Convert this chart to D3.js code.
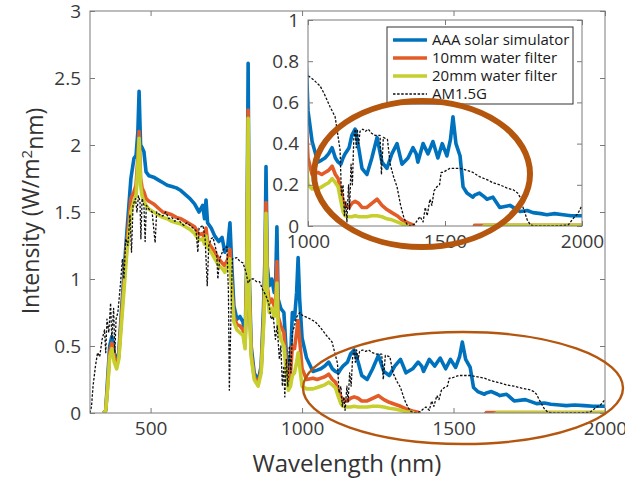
<!DOCTYPE html>
<html>
<head>
<meta charset="utf-8">
<script src="https://cdn.jsdelivr.net/npm/d3@7"></script>
<style>
  body { margin: 0; background: #fff; }
  svg { display: block; font-family: "Open Sans", sans-serif; }
  .tick text { fill: #3a3a3a; }
</style>
</head>
<body>
<svg id="chart" width="625" height="481"></svg>
<script>
// simulator + water filter spectra (shared wavelength grid, nm)
var wlSim = [345,352,358,365,372,380,388,395,405,420,435,445,452,458,462,467,472,478,485,495,
  510,525,540,555,570,585,600,615,630,645,660,672,678,683,688,700,712,725,736,745,
  755,762,768,775,785,795,805,812,818,822,826,832,842,855,865,873,878,881,885,892,
  900,908,913,917,921,930,940,948,955,962,968,975,982,987,992,1000,1015,1036,1050,1062,
  1075,1088,1100,1110,1120,1128,1135,1150,1160,1172,1185,1197,1215,1233,1252,1270,1288,1306,1325,1343,
  1365,1383,1395,1401,1420,1438,1456,1474,1490,1507,1520,1529,1540,1555,1566,1580,1602,1608,1625,1645,
  1653,1675,1700,1737,1774,1800,1821,1850,1872,1900,1931,1960,2000];
var aaa = [0,0.02,0.25,0.5,0.57,0.45,0.37,0.45,0.8,1.3,1.75,1.9,1.92,2.1,2.4,2.0,1.98,1.95,1.8,1.77,
  1.76,1.74,1.72,1.7,1.69,1.68,1.66,1.63,1.6,1.56,1.5,1.55,1.45,1.59,1.42,1.38,1.32,1.28,1.31,1.2,
  1.25,1.42,1.1,0.8,0.7,0.72,0.68,0.55,1.2,2.61,1.0,0.5,0.3,0.24,0.35,0.8,1.2,1.84,1.1,0.95,
  1.0,0.9,1.0,1.39,0.85,0.78,0.75,0.45,0.3,0.4,0.75,0.7,0.9,1.16,0.85,0.56,0.41,0.31,0.32,0.33,
  0.35,0.38,0.33,0.31,0.3,0.33,0.35,0.38,0.44,0.47,0.38,0.28,0.25,0.33,0.43,0.31,0.28,0.35,0.4,0.3,
  0.33,0.38,0.35,0.31,0.4,0.35,0.41,0.33,0.4,0.34,0.42,0.53,0.4,0.34,0.19,0.16,0.14,0.15,0.16,0.14,
  0.13,0.14,0.09,0.1,0.07,0.075,0.065,0.06,0.055,0.06,0.055,0.05,0.05];
var water10 = [0,0.02,0.2,0.45,0.52,0.42,0.35,0.42,0.75,1.22,1.6,1.65,1.7,1.9,2.1,1.75,1.68,1.65,1.6,1.58,
  1.56,1.53,1.5,1.49,1.48,1.46,1.45,1.43,1.41,1.39,1.33,1.34,1.3,1.38,1.28,1.24,1.2,1.15,1.12,1.1,
  1.15,1.22,0.95,0.72,0.66,0.65,0.62,0.5,1.1,2.26,0.9,0.45,0.27,0.22,0.32,0.7,1.1,1.57,0.95,0.82,
  0.85,0.8,0.85,1.13,0.72,0.65,0.6,0.35,0.22,0.3,0.5,0.48,0.6,0.69,0.55,0.33,0.25,0.26,0.25,0.26,
  0.27,0.29,0.25,0.23,0.17,0.12,0.1,0.09,0.11,0.12,0.11,0.09,0.09,0.11,0.13,0.1,0.08,0.065,0.05,0.03,
  0.015,0.005,-0.02,-0.02,-0.02,-0.02,-0.02,-0.02,-0.02,-0.02,-0.02,-0.02,-0.02,-0.02,-0.02,-0.02,-0.02,0.003,0.003,0.003,
  0.003,0.003,0.003,0.003,0.003,0.003,0.003,0.003,0.003,0.003,0.003,0.003,0.003];
var water20 = [0,0.02,0.18,0.42,0.48,0.38,0.33,0.4,0.7,1.15,1.5,1.58,1.62,1.85,2.05,1.7,1.62,1.58,1.55,1.52,
  1.5,1.48,1.46,1.45,1.43,1.42,1.41,1.39,1.37,1.34,1.29,1.3,1.26,1.32,1.24,1.2,1.15,1.1,1.08,1.05,
  1.1,1.15,0.9,0.68,0.62,0.6,0.58,0.48,1.05,2.2,0.85,0.42,0.25,0.2,0.3,0.65,1.0,1.49,0.9,0.75,
  0.78,0.72,0.8,0.97,0.65,0.55,0.5,0.3,0.17,0.2,0.28,0.3,0.38,0.45,0.35,0.2,0.18,0.18,0.19,0.2,
  0.21,0.23,0.21,0.19,0.12,0.07,0.05,0.045,0.045,0.05,0.045,0.045,0.045,0.05,0.05,0.045,0.035,0.03,0.02,0.01,
  0.003,-0.02,-0.02,-0.02,-0.02,-0.02,-0.02,-0.02,-0.02,-0.02,-0.02,-0.02,-0.02,-0.02,-0.02,-0.02,-0.02,-0.02,-0.02,0.003,
  0.003,0.003,0.003,0.003,0.003,0.003,0.003,0.003,0.003,0.003,0.003,0.003,0.003];

// AM1.5G reference
var wlAM = [300,305,310,318,325,332,340,348,352,356,362,368,372,378,382,386,392,400,407,412,
  418,425,432,437,442,450,455,460,465,468,472,478,482,486,495,505,515,520,530,540,
  550,560,570,580,590,600,610,620,630,640,650,656,660,673,680,687,692,700,706,718,
  722,728,740,752,757,760,765,770,785,795,805,815,822,830,840,850,860,870,880,890,
  898,905,912,918,925,930,935,940,943,948,953,958,963,968,975,983,993,1000,1020,1044,
  1060,1080,1099,1108,1117,1122,1128,1133,1138,1142,1148,1152,1157,1162,1167,1172,1176,1180,1185,1190,
  1200,1210,1220,1232,1245,1263,1268,1275,1290,1300,1312,1325,1338,1350,1360,1375,1390,1400,1409,1420,
  1428,1435,1445,1452,1460,1470,1480,1486,1493,1505,1518,1540,1555,1580,1602,1625,1653,1675,1700,1725,
  1750,1765,1774,1785,1800,1812,1830,1900,1950,1970,1985,2000];
var am15g = [0,0.05,0.2,0.35,0.45,0.42,0.55,0.62,0.45,0.7,0.6,0.82,0.55,0.78,0.45,0.7,0.75,0.95,1.15,1.0,
  1.3,1.25,1.48,1.2,1.55,1.6,1.5,1.62,1.58,1.3,1.6,1.55,1.28,1.55,1.52,1.5,1.27,1.5,1.48,1.47,
  1.5,1.45,1.46,1.43,1.45,1.42,1.4,1.42,1.4,1.38,1.36,1.2,1.38,1.4,1.3,0.95,1.25,1.3,1.31,1.2,
  1.0,1.15,1.22,1.24,0.9,0.17,0.7,1.15,1.16,1.13,1.12,1.05,0.97,1.0,1.0,0.98,0.98,0.92,0.88,0.82,
  0.7,0.72,0.55,0.65,0.4,0.5,0.2,0.35,0.12,0.4,0.2,0.5,0.3,0.6,0.65,0.72,0.75,0.73,0.71,0.68,
  0.64,0.58,0.53,0.45,0.37,0.15,0.2,0.05,0.12,0.02,0.2,0.08,0.3,0.2,0.42,0.47,0.38,0.47,0.4,0.46,
  0.47,0.46,0.47,0.45,0.44,0.44,0.25,0.43,0.42,0.3,0.24,0.19,0.1,0.04,0.01,0,0.01,0.03,0.045,0.02,
  0.09,0.05,0.13,0.1,0.17,0.19,0.2,0.26,0.26,0.27,0.28,0.28,0.28,0.27,0.26,0.24,0.225,0.21,0.2,0.185,
  0.175,0.16,0.14,0.09,0.03,0.005,0,0,0.005,0.04,0.06,0.1];

var series = [
  {name: "AAA solar simulator", color: "#0072bd", wl: wlSim, v: aaa},
  {name: "10mm water filter", color: "#e35b27", wl: wlSim, v: water10},
  {name: "20mm water filter", color: "#c6cf2e", wl: wlSim, v: water20},
  {name: "AM1.5G", color: "#111", wl: wlAM, v: am15g, dash: true}
];
series.forEach(function(s) { s.pts = s.wl.map(function(w, i) { return [w, s.v[i]]; }); });

var svg = d3.select("#chart");
var tickFont = "19px";

function panel(g, x, y, id, xTicks, yTicks, lw) {
  var x0 = x.range()[0], x1 = x.range()[1], y0 = y.range()[0], y1 = y.range()[1];
  g.append("rect").attr("x", x0).attr("y", y1).attr("width", x1 - x0).attr("height", y0 - y1)
    .attr("fill", "#fff");
  g.append("clipPath").attr("id", id).append("rect")
    .attr("x", x0).attr("y", y1).attr("width", x1 - x0).attr("height", y0 - y1);

  var line = d3.line().x(function(d) { return x(d[0]); }).y(function(d) { return y(d[1]); });
  var lines = g.append("g").attr("clip-path", "url(#" + id + ")");
  series.forEach(function(s) {
    lines.append("path").datum(s.pts)
      .attr("d", line)
      .attr("fill", "none")
      .attr("stroke", s.color)
      .attr("stroke-width", s.dash ? 1.3 : lw)
      .attr("stroke-dasharray", s.dash ? "2.5,1.6" : null)
      .attr("stroke-linejoin", "round");
  });

  var ax = [
    g.append("g").attr("transform", "translate(0," + y0 + ")")
      .call(d3.axisBottom(x).tickValues(xTicks).tickSize(-5).tickPadding(9).tickFormat(d3.format("d"))),
    g.append("g").attr("transform", "translate(0," + y1 + ")")
      .call(d3.axisTop(x).tickValues(xTicks).tickSize(-5).tickFormat("")),
    g.append("g").attr("transform", "translate(" + x0 + ",0)")
      .call(d3.axisLeft(y).tickValues(yTicks).tickSize(-5).tickPadding(9).tickFormat(d3.format(""))),
    g.append("g").attr("transform", "translate(" + x1 + ",0)")
      .call(d3.axisRight(y).tickValues(yTicks).tickSize(-5).tickFormat(""))
  ];
  ax.forEach(function(a) {
    a.select(".domain").remove();
    a.selectAll("line").attr("stroke", "#7a7a7a");
    a.selectAll("text").style("font-size", tickFont).style("font-family", "'Open Sans', sans-serif");
  });
  g.append("rect").attr("x", x0).attr("y", y1).attr("width", x1 - x0).attr("height", y0 - y1)
    .attr("fill", "none").attr("stroke", "#7a7a7a").attr("stroke-width", 1);
}

// main axes
var x = d3.scaleLinear().domain([300, 2000]).range([90, 605]);
var y = d3.scaleLinear().domain([0, 3]).range([413, 11]);
var main = svg.append("g");
panel(main, x, y, "clipMain", [500, 1000, 1500, 2000], [0, 0.5, 1, 1.5, 2, 2.5, 3], 3.6);

// wide ellipse on main plot
main.append("ellipse").attr("cx", 463).attr("cy", 388).attr("rx", 160).attr("ry", 56)
  .attr("fill", "none").attr("stroke", "#b5560f").attr("stroke-width", 2.4);

// inset
var xi = d3.scaleLinear().domain([1000, 2000]).range([308, 582]);
var yi = d3.scaleLinear().domain([0, 1]).range([226, 20]);
var inset = svg.append("g");
panel(inset, xi, yi, "clipInset", [1000, 1500, 2000], [0, 0.2, 0.4, 0.6, 0.8, 1], 3.6);

// legend
var leg = inset.append("g");
leg.append("rect").attr("x", 387).attr("y", 27).attr("width", 186).attr("height", 77)
  .attr("fill", "#fff").attr("stroke", "#333").attr("stroke-width", 1);
series.forEach(function(s, i) {
  var ly = 40 + i * 18;
  leg.append("line").attr("x1", 393).attr("x2", 427).attr("y1", ly).attr("y2", ly)
    .attr("stroke", s.color).attr("stroke-width", s.dash ? 1.3 : 3.6)
    .attr("stroke-dasharray", s.dash ? "2.5,1.6" : null);
  leg.append("text").attr("x", 432).attr("y", ly).attr("dy", "0.35em")
    .style("font-size", "15px").attr("fill", "#1a1a1a").text(s.name);
});

// thick ellipse on inset
inset.append("ellipse").attr("cx", 422).attr("cy", 174).attr("rx", 108).attr("ry", 73)
  .attr("fill", "none").attr("stroke", "#b5560f").attr("stroke-width", 6);

// axis titles
svg.append("text").attr("x", 347).attr("y", 472).attr("text-anchor", "middle")
  .style("font-size", "24px").attr("fill", "#333").text("Wavelength (nm)");
var yt = svg.append("text").attr("transform", "translate(39,211) rotate(-90)")
  .attr("text-anchor", "middle").style("font-size", "23px").attr("fill", "#333");
yt.append("tspan").text("Intensity (W/m");
yt.append("tspan").attr("dy", "-0.45em").style("font-size", "15px").text("2");
yt.append("tspan").attr("dy", "0.45em").text("nm)");
</script>
</body>
</html>
